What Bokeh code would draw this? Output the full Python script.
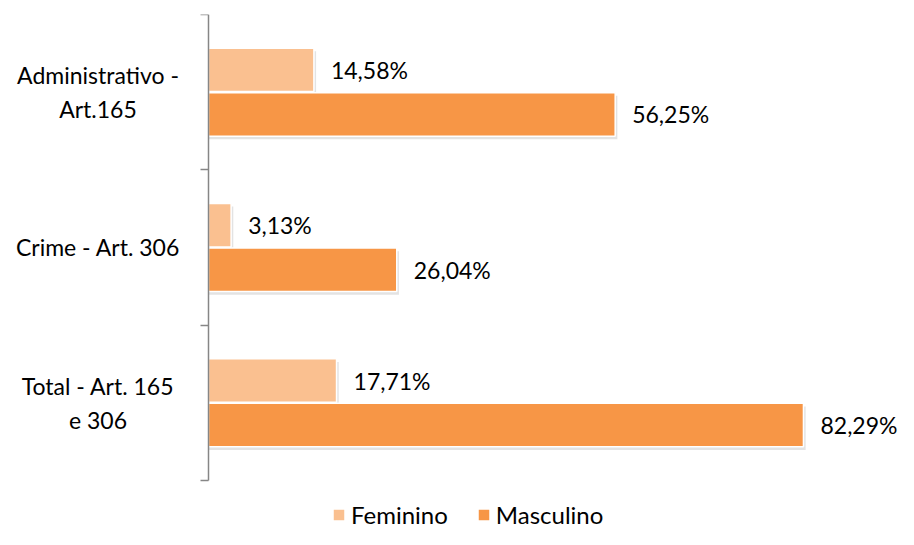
from bokeh.plotting import figure
from bokeh.models import Range1d, FixedTicker, Legend, ColumnDataSource, LinearAxis
from bokeh.core.properties import value
from bokeh.embed import file_html
from bokeh.resources import INLINE

categories = ["Administrativo -\nArt.165", "Crime - Art. 306", "Total - Art. 165\ne 306"]
feminino = [14.58, 3.13, 17.71]
masculino = [56.25, 26.04, 82.29]
fem_labels = ["14,58%", "3,13%", "17,71%"]
masc_labels = ["56,25%", "26,04%", "82,29%"]

FONT = "Lato"
n = len(categories)
centers = [n - i - 0.5 for i in range(n)]
off = 0.1435
bh = 0.28

PX = 7.23            # pixels per percent
LEFT = 2             # frame left border
ZERO = 208           # pixel position of the value axis origin
W, H = 898, 529
x_start = -(ZERO - LEFT) / PX
x_end = (W - ZERO) / PX

p = figure(width=W, height=H, x_range=Range1d(x_start, x_end), y_range=Range1d(-0.3155, n),
           output_backend="svg", toolbar_location=None, y_axis_location=None,
           min_border_left=LEFT, min_border_right=0, min_border_top=14, min_border_bottom=0)
p.outline_line_color = None
p.xgrid.visible = False
p.ygrid.visible = False
p.xaxis.visible = False

src_f = ColumnDataSource(dict(y=[c + off for c in centers], right=feminino, label=fem_labels))
src_m = ColumnDataSource(dict(y=[c - off for c in centers], right=masculino, label=masc_labels))
src_c = ColumnDataSource(dict(y=centers, label=categories))

# soft shadows
sh_f = ColumnDataSource(dict(y=[c + off - 0.02 for c in centers], right=[v + 0.3 for v in feminino]))
sh_m = ColumnDataSource(dict(y=[c - off - 0.02 for c in centers], right=[v + 0.3 for v in masculino]))
for s in (sh_f, sh_m):
    p.hbar(y="y", right="right", left=0, height=bh, fill_color="#808080", fill_alpha=0.22,
           line_color=None, source=s)

rf = p.hbar(y="y", right="right", left=0, height=bh, fill_color="#FAC090",
            line_color="white", line_width=1.5, source=src_f)
rm = p.hbar(y="y", right="right", left=0, height=bh, fill_color="#F79646",
            line_color="white", line_width=1.5, source=src_m)

for src in (src_f, src_m):
    p.text(x="right", y="y", text="label", x_offset=17, text_baseline="middle",
           text_font=value(FONT), text_font_size="23px", text_color="#000000", source=src)

# category labels, centred multi-line
p.text(x=0, y="y", text="label", x_offset=-110.5, text_align="center", text_baseline="middle",
       text_font=value(FONT), text_font_size="23px", text_color="#000000",
       text_line_height=1.2, source=src_c)

ax = LinearAxis(fixed_location=0, bounds=(0, n),
                ticker=FixedTicker(ticks=centers, minor_ticks=list(range(n + 1))))
ax.major_label_overrides = {c: "" for c in centers}
ax.major_label_standoff = 0
ax.major_tick_line_color = None
ax.major_tick_out = 0
ax.major_tick_in = 0
ax.minor_tick_in = 0
ax.minor_tick_out = 8
ax.minor_tick_line_color = "#868686"
ax.minor_tick_line_width = 1.5
ax.axis_line_color = "#868686"
ax.axis_line_width = 1.5
p.add_layout(ax, "left")

legend = Legend(items=[("Feminino", [rf]), ("Masculino", [rm])], orientation="horizontal",
                location=(ZERO - LEFT + 123, 0), label_text_font=FONT, label_text_font_size="24px",
                label_text_color="#000000", glyph_width=15, glyph_height=15,
                label_standoff=5, spacing=28, padding=0, margin=0,
                border_line_color=None, background_fill_alpha=0)
p.add_layout(legend, "center")

open("out.html", "w").write(file_html(p, INLINE))
